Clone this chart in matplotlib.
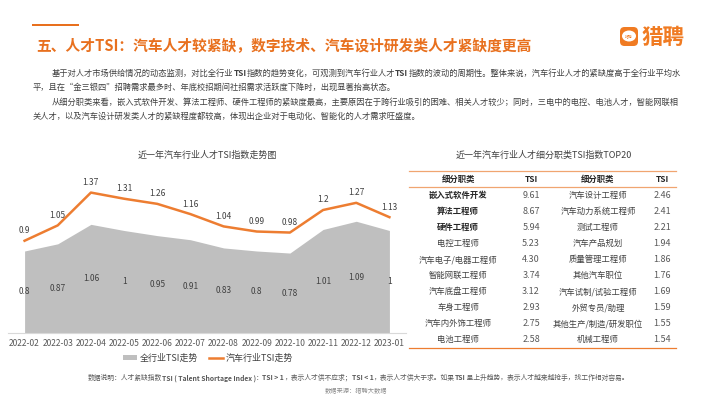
import matplotlib
matplotlib.use("Agg")
import matplotlib.pyplot as plt
from matplotlib.patches import FancyBboxPatch, Ellipse, Rectangle
import numpy as np

plt.rcParams['font.family'] = ['Noto Sans CJK SC', 'DejaVu Sans']

# ---- data ----
months = ['2022-02', '2022-03', '2022-04', '2022-05', '2022-06', '2022-07',
          '2022-08', '2022-09', '2022-10', '2022-11', '2022-12', '2023-01']
all_industry_tsi = [0.8, 0.87, 1.06, 1, 0.95, 0.91, 0.83, 0.8, 0.78, 1.01, 1.09, 1]
auto_industry_tsi = [0.9, 1.05, 1.37, 1.31, 1.26, 1.16, 1.04, 0.99, 0.98, 1.2, 1.27, 1.13]

left_roles = ['嵌入式软件开发', '算法工程师', '硬件工程师', '电控工程师', '汽车电子/电器工程师',
              '智能网联工程师', '汽车底盘工程师', '车身工程师', '汽车内外饰工程师', '电池工程师']
left_tsi = [9.61, 8.67, 5.94, 5.23, 4.30, 3.74, 3.12, 2.93, 2.75, 2.58]
right_roles = ['汽车设计工程师', '汽车动力系统工程师', '测试工程师', '汽车产品规划', '质量管理工程师',
               '其他汽车职位', '汽车试制/试验工程师', '外贸专员/助理', '其他生产/制造/研发职位', '机械工程师']
right_tsi = [2.46, 2.41, 2.21, 1.94, 1.86, 1.76, 1.69, 1.59, 1.55, 1.54]
bold_rows = 3

ORANGE = '#ED7D31'
TITLE_ORANGE = '#E8701E'
GRAY_AREA = '#BFBFBF'
TEXT = '#404040'

W, H = 710, 399
fig = plt.figure(figsize=(W / 100, H / 100), dpi=100)
renderer = fig.canvas.get_renderer()


def fx(px):
    return px / W


def fy(py):
    return 1 - py / H


def rich_text(x, y, parts, size, color, ha='left'):
    # draw a line made of normal / bold pieces next to each other
    texts = []
    for s, b in parts:
        t = fig.text(0, fy(y), s, fontsize=size, color=color, va='center',
                     fontweight='bold' if b else 'normal')
        texts.append(t)
    widths = [t.get_window_extent(renderer).width for t in texts]
    start = x - sum(widths) / 2 if ha == 'center' else x
    for t, w in zip(texts, widths):
        t.set_x(fx(start))
        start += w


# ---- header ----
fig.add_artist(Rectangle((fx(32), fy(26)), fx(79) - fx(32), 2.2 / H,
                         transform=fig.transFigure, color=TITLE_ORANGE, lw=0))
fig.text(fx(36), fy(46), '五、人才TSI：汽车人才较紧缺，数字技术、汽车设计研发类人才紧缺度更高',
         fontsize=10.6, fontweight='bold', color=TITLE_ORANGE, va='center')

# logo
fig.add_artist(FancyBboxPatch((620 / 100, (H - 46) / 100), 0.18, 0.19,
                              boxstyle='round,pad=0,rounding_size=0.045',
                              transform=fig.dpi_scale_trans, color='#F07B22', lw=0))
fig.add_artist(Ellipse((629 / 100, (H - 36) / 100), 0.14, 0.11,
                       transform=fig.dpi_scale_trans, color='white', lw=0))
fig.text(fx(629), fy(36), '猎聘', fontsize=2.8, color='#F07B22', ha='center', va='center')
fig.text(fx(641), fy(37), '猎聘', fontsize=15.5, fontweight='bold', color='#F07B22', va='center')

# paragraph
rich_text(52, 73, [('基于对人才市场供给情况的动态监测，对比全行业', False), ('TSI', True),
                   ('指数的趋势变化，可观测到汽车行业人才', False), ('TSI', True),
                   ('指数的波动的周期性。整体来说，汽车行业人才的紧缺度高于全行业平均水', False)],
          5.95, TEXT)
rich_text(33, 87.5, [('平，且在“金三银四”招聘需求最多时、年底校招期间社招需求活跃度下降时，出现显著抬高状态。', False)],
          5.95, TEXT)
rich_text(52, 102, [('从细分职类来看，嵌入式软件开发、算法工程师、硬件工程师的紧缺度最高，主要原因在于跨行业吸引的困难、'
                     '相关人才较少；同时，三电中的电控、电池人才，智能网联相', False)], 5.95, TEXT)
rich_text(33, 116.5, [('关人才，以及汽车设计研发类人才的紧缺程度都较高，体现出企业对于电动化、智能化的人才需求旺盛度。', False)],
          5.95, TEXT)

# ---- line / area chart ----
fig.text(fx(207), fy(155), '近一年汽车行业人才TSI指数走势图', fontsize=6.5, color=TEXT,
         ha='center', va='center')

ax = fig.add_axes([fx(8), fy(333), fx(406) - fx(8), (333 - 169) / H])
x = np.arange(len(months))
ax.fill_between(x, all_industry_tsi, color=GRAY_AREA, lw=0, label='全行业TSI走势')
ax.plot(x, auto_industry_tsi, color=ORANGE, lw=1.8, label='汽车行业TSI走势')
for i, v in enumerate(auto_industry_tsi):
    ax.annotate(f'{v:g}', (i, v), xytext=(0, 4), textcoords='offset points',
                ha='center', va='bottom', fontsize=6, color=TEXT)
for i, v in enumerate(all_industry_tsi):
    ax.text(i, v / 2, f'{v:g}', ha='center', va='center', fontsize=6, color=TEXT)

ax.set_xlim(-0.5, 11.5)
ax.set_ylim(0, 1.6)
ax.set_xticks(x)
ax.set_xticklabels(months)
ax.tick_params(axis='x', length=0, pad=4, labelsize=6.1, labelcolor='#595959')
ax.set_yticks([])
for s in ['top', 'left', 'right']:
    ax.spines[s].set_visible(False)
ax.spines['bottom'].set_color('#D9D9D9')
ax.spines['bottom'].set_linewidth(0.8)
ax.patch.set_alpha(0)

leg = ax.legend(loc='center', bbox_to_anchor=(fx(208), fy(358)), bbox_transform=fig.transFigure,
                ncol=2, frameon=False, fontsize=6.5, handlelength=1.6, handleheight=0.5,
                columnspacing=1.2, handletextpad=0.3)
for t in leg.get_texts():
    t.set_color(TEXT)

# ---- table ----
fig.text(fx(544), fy(155), '近一年汽车行业人才细分职类TSI指数TOP20', fontsize=6.5, color=TEXT,
         ha='center', va='center')

tax = fig.add_axes([fx(409), fy(348), fx(676) - fx(409), (348 - 171) / H])
tax.set_xlim(0, 1)
tax.set_ylim(len(left_roles) - 0.5, -1.5)
tax.axis('off')
col_x = [0.184, 0.457, 0.708, 0.948]
for cx, head in zip(col_x, ['细分职类', 'TSI', '细分职类', 'TSI']):
    tax.text(cx, -1, head, ha='center', va='center', fontsize=6, fontweight='bold', color='#262626')
for r in range(len(left_roles)):
    tax.text(col_x[0], r, left_roles[r], ha='center', va='center', fontsize=6,
             fontweight='bold' if r < bold_rows else 'normal',
             color='#262626' if r < bold_rows else TEXT)
    tax.text(col_x[1], r, f'{left_tsi[r]:.2f}', ha='center', va='center', fontsize=6.5, color='#595959')
    tax.text(col_x[2], r, right_roles[r], ha='center', va='center', fontsize=6, color=TEXT)
    tax.text(col_x[3], r, f'{right_tsi[r]:.2f}', ha='center', va='center', fontsize=6.5, color='#595959')
for yl, c in [(-1.5, '#F0A570'), (-0.5, '#F0A570'), (len(left_roles) - 0.5, ORANGE)]:
    tax.axhline(yl, color=c, lw=0.9, clip_on=False)

# ---- footnote ----
rich_text(358, 378, [('数据说明：人才紧缺指数', False), ('TSI ( Talent Shortage Index )', True), ('：', False),
                     ('TSI > 1', True), ('，表示人才供不应求；', False), ('TSI < 1', True),
                     ('，表示人才供大于求。如果', False), ('TSI', True),
                     (' 呈上升趋势，表示人才越来越抢手，找工作相对容易。', False)],
          4.9, '#595959', ha='center')
fig.text(fx(356), fy(391), '数据来源：猎聘大数据', fontsize=4.5, color='#8C8C8C', ha='center', va='center')

fig.savefig('out.png', dpi=100)
